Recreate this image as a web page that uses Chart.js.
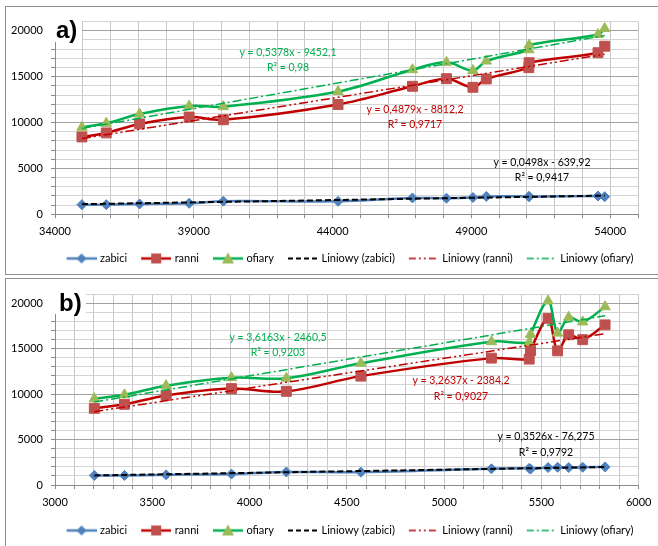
<!DOCTYPE html>
<html>
<head>
<meta charset="utf-8">
<script src="https://cdn.jsdelivr.net/npm/chart.js@4.4.0/dist/chart.umd.min.js"></script>
<style>
    body { margin: 0; background: #fff; width: 658px; height: 546px; overflow: hidden; position: relative; }
    .frame { position: absolute; left: 5px; width: 700px; border: 1px solid #8e8e8e; }
    #frame-a { top: 6px; height: 267px; }
    #frame-b { top: 278px; height: 280px; }
    canvas { position: absolute; }
</style>
</head>
<body>
<div class="frame" id="frame-a"></div>
<div class="frame" id="frame-b"></div>
<canvas id="chart-a" width="652" height="267" style="left:6px;top:7px"></canvas>
<canvas id="chart-b" width="652" height="267" style="left:6px;top:279px"></canvas>
<script>
// years 2001..2014
const lata = [2001, 2002, 2003, 2004, 2005, 2006, 2007, 2008, 2009, 2010, 2011, 2012, 2013, 2014];
// x of panel a) and panel b)
const wypadki = [53799, 53559, 51078, 51069, 48100, 46876, 49536, 49054, 44196, 38832, 40065, 37046, 35847, 34970];
const zabiciOgolem = [5534, 5827, 5640, 5712, 5444, 5243, 5583, 5437, 4572, 3907, 4189, 3571, 3357, 3202];
// series values
const zabici = [1920, 1990, 1920, 1950, 1750, 1780, 1950, 1830, 1410, 1200, 1430, 1120, 1050, 1050];
const ranni = [18320, 17610, 16520, 15980, 14780, 13950, 14750, 13840, 11970, 10600, 10300, 9850, 8870, 8430];
const ofiary = [20240, 19600, 18440, 17930, 16560, 15760, 16700, 15670, 13380, 11800, 11730, 10920, 9920, 9480];

// linear trends (zabici, ranni, ofiary)
const slopeA = [0.0498, 0.4879, 0.5378];
const interceptA = [-639.92, -8812.2, -9452.1];
const eqA = ['y = 0,0498x - 639,92', 'y = 0,4879x - 8812,2', 'y = 0,5378x - 9452,1'];
const r2A = ['R² = 0,9417', 'R² = 0,9717', 'R² = 0,98'];
const slopeB = [0.3526, 3.2637, 3.6163];
const interceptB = [-76.275, -2384.2, -2460.5];
const eqB = ['y = 0,3526x - 76,275', 'y = 3,2637x - 2384,2', 'y = 3,6163x - 2460,5'];
const r2B = ['R² = 0,9792', 'R² = 0,9027', 'R² = 0,9203'];

const seriesNames = ['zabici', 'ranni', 'ofiary'];
const trendNames = ['Liniowy (zabici)', 'Liniowy (ranni)', 'Liniowy (ofiary)'];

const BLUE = '#4F81BD', RED = '#C00000', RED_MARK = '#C0504D', GREEN = '#00B050', GREEN_MARK = '#9BBB59';
const FONT = 'Lato';

// legend samples: line + marker drawn on small canvases (sample sits at 4..34)
function sample(color, dash, width, marker, markColor) {
    const c = document.createElement('canvas');
    c.width = 34; c.height = 14;
    const g = c.getContext('2d');
    g.translate(4, 0);
    g.strokeStyle = color;
    g.lineWidth = width;
    g.setLineDash(dash);
    g.beginPath(); g.moveTo(0, 7); g.lineTo(30, 7); g.stroke();
    g.fillStyle = markColor;
    if (marker === 'diamond') {
        g.beginPath(); g.moveTo(15, 2); g.lineTo(20, 7); g.lineTo(15, 12); g.lineTo(10, 7); g.closePath(); g.fill();
    } else if (marker === 'square') {
        g.fillRect(10, 2, 10, 10);
    } else if (marker === 'triangle') {
        g.beginPath(); g.moveTo(15, 1); g.lineTo(21, 12); g.lineTo(9, 12); g.closePath(); g.fill();
    }
    return c;
}
const samples = [
    sample(BLUE, [], 2.5, 'diamond', BLUE),
    sample(RED, [], 2.5, 'square', RED_MARK),
    sample(GREEN, [], 2.5, 'triangle', GREEN_MARK),
    sample('#000', [5, 3], 2, null),
    sample(RED, [7, 3, 2, 3, 2, 3], 1.5, null),
    sample(GREEN, [7, 3, 2, 3], 1.5, null)
];

// trend labels + panel letter; legend nudged to the right like in Excel
const overlay = {
    id: 'overlay',
    afterLayout(chart, args, o) {
        chart.legend.left += o.legendShift;
        chart.legend.right += o.legendShift;
    },
    afterDraw(chart, args, o) {
        const ctx = chart.ctx;
        ctx.save();
        ctx.font = '10.5px ' + FONT;
        ctx.textAlign = 'center';
        ctx.textBaseline = 'middle';
        o.labels.forEach(l => {
            ctx.fillStyle = l.color;
            ctx.fillText(l.eq, l.x, l.y);
            ctx.fillText(l.r2, l.x, l.y2);
        });
        ctx.fillStyle = '#fff';
        ctx.fillRect(o.box[0], o.box[1], o.box[2], o.box[3]);
        ctx.fillStyle = '#000';
        ctx.font = 'bold 24px "Liberation Sans"';
        ctx.textAlign = 'left';
        ctx.textBaseline = 'alphabetic';
        ctx.fillText(o.letter, o.letterX, o.letterY);
        ctx.restore();
    }
};

function buildChart(id, p) {
    const xs = p.xs;
    const idx = xs.map((_, i) => i).sort((a, b) => xs[a] - xs[b]);
    const pts = arr => idx.map(i => ({ x: xs[i], y: arr[i] }));
    const lo = Math.min(...xs), hi = Math.max(...xs);
    const trend = k => [lo, hi].map(x => ({ x: x, y: p.slope[k] * x + p.intercept[k] }));
    const colors = ['#000', RED, GREEN];

    const datasets = [
        { label: seriesNames[0], data: pts(zabici), borderColor: BLUE, backgroundColor: BLUE,
          pointStyle: 'rectRot', pointRadius: 5, order: 5 },
        { label: seriesNames[1], data: pts(ranni), borderColor: RED, backgroundColor: RED_MARK,
          pointBackgroundColor: RED_MARK, pointBorderColor: RED_MARK, pointStyle: 'rect', pointRadius: 7, order: 4 },
        { label: seriesNames[2], data: pts(ofiary), borderColor: GREEN, backgroundColor: GREEN_MARK,
          pointBackgroundColor: GREEN_MARK, pointBorderColor: GREEN_MARK, pointStyle: 'triangle', pointRadius: 6, order: 3 },
        { label: trendNames[0], data: trend(0), borderColor: '#000', borderDash: [6, 3], borderWidth: 2, order: 2 },
        { label: trendNames[1], data: trend(1), borderColor: RED, borderDash: [9, 3, 2, 3, 2, 3], borderWidth: 1.5, order: 1 },
        { label: trendNames[2], data: trend(2), borderColor: GREEN, borderDash: [9, 3, 2, 3], borderWidth: 1.5, order: 0 }
    ];
    datasets.forEach((d, i) => {
        d.showLine = true;
        if (i < 3) {
            d.borderWidth = 2.5;
            d.tension = 0.35;
            d.pointBorderWidth = 1;
        } else {
            d.pointRadius = 0;
            d.tension = 0;
        }
    });

    const labels = [2, 1, 0].map(k => ({
        color: colors[k], eq: p.eq[k], r2: p.r2[k], x: p.lab[k][0], y: p.lab[k][1], y2: p.lab[k][2]
    }));

    return new Chart(document.getElementById(id), {
        type: 'scatter',
        data: { datasets: datasets },
        plugins: [overlay],
        options: {
            responsive: false,
            animation: false,
            events: [],
            layout: { padding: { top: p.top, left: 0, right: 0, bottom: 0 } },
            scales: {
                x: {
                    type: 'linear', min: p.xMin, max: p.xMax,
                    ticks: {
                        stepSize: p.xStep, autoSkip: false, maxRotation: 0, maxTicksLimit: 100, padding: p.xPad,
                        color: '#000', font: { family: FONT, size: 11 },
                        callback: v => (Math.round(v - p.xMin) % p.xMajor === 0 && v !== p.xMax) || (v === p.xMax && p.showLast) ? String(Math.round(v)) : ''
                    },
                    grid: { color: '#c8c8c8', tickLength: 4, tickColor: '#8a8a8a' },
                    border: { color: '#8a8a8a' },
                    afterFit: s => { s.height = p.xAxisH; }
                },
                y: {
                    min: 0, max: 21000,
                    ticks: {
                        stepSize: 1000, maxTicksLimit: 100, autoSkip: false, padding: 8,
                        color: '#000', font: { family: FONT, size: 11 },
                        callback: v => (v % 5000 === 0 && v < 21000) ? String(v) : ''
                    },
                    grid: {
                        color: c => (c.tick && c.tick.value % 5000 === 0) ? '#a0a0a0' : '#d4d4d4',
                        tickLength: 4, tickColor: '#8a8a8a'
                    },
                    border: { color: '#8a8a8a' },
                    afterFit: s => { s.width = 49; }
                },
                yR: {
                    position: 'right', display: true,
                    grid: { display: false, drawTicks: false },
                    border: { display: false },
                    ticks: { display: false },
                    afterFit: s => { s.width = p.rightW; }
                }
            },
            plugins: {
                tooltip: { enabled: false },
                legend: {
                    position: 'bottom',
                    labels: {
                        usePointStyle: true, pointStyleWidth: 30, padding: 12,
                        color: '#1a1a1a', font: { family: FONT, size: 11 },
                        generateLabels: chart => chart.data.datasets.map((d, i) => ({
                            text: d.label, pointStyle: samples[i], lineWidth: 0,
                            fillStyle: 'transparent', strokeStyle: 'transparent', hidden: false, datasetIndex: i
                        }))
                    }
                },
                overlay: {
                    labels: labels, letter: p.letter, box: p.box, letterX: p.letterX, letterY: p.letterY,
                    legendShift: 17
                }
            }
        }
    });
}

buildChart('chart-a', {
    xs: wypadki, slope: slopeA, intercept: interceptA, eq: eqA, r2: r2A,
    xMin: 34000, xMax: 55000, xStep: 1000, xMajor: 5000, showLast: false,
    top: 13.7, xAxisH: 26.7, xPad: 7, rightW: 20,
    lab: [[536, 156, 171], [409, 103, 118], [282, 46, 61]],
    letter: 'a)', box: [44, 7, 32, 28], letterX: 50, letterY: 31
});

buildChart('chart-b', {
    xs: zabiciOgolem, slope: slopeB, intercept: interceptB, eq: eqB, r2: r2B,
    xMin: 3000, xMax: 6000, xStep: 100, xMajor: 500, showLast: true,
    top: 15, xAxisH: 28, xPad: 6.5, rightW: 18,
    lab: [[540, 158, 174], [455, 102, 118], [272, 59, 74]],
    letter: 'b)', box: [44, 9, 36, 26], letterX: 53, letterY: 32
});
</script>
</body>
</html>
